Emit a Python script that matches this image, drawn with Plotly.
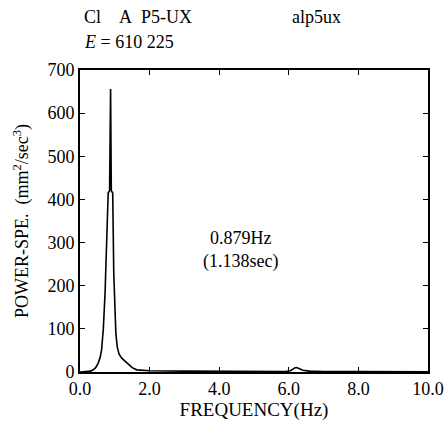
import plotly.graph_objects as go

# Data
freq = [0.0, 0.19, 0.3, 0.38, 0.45, 0.52, 0.58, 0.62, 0.67, 0.72, 0.77, 0.81, 0.85, 0.879, 0.9, 0.94, 0.97,
        1.0, 1.03, 1.07, 1.12, 1.2, 1.34, 1.5, 1.63, 2.0,
        3.0, 4.0, 5.0, 5.9, 6.05, 6.12, 6.18, 6.23, 6.3, 6.4, 6.6, 7.0, 8.0, 9.0, 10.0]
power = [0.0, 0.5, 2.0, 5.0, 10.0, 20.0, 34.0, 51.0, 100.0, 183.0, 290.0, 415.0, 420.0, 656.0, 420.0, 415.0, 230.0,
         140.0, 90.0, 58.0, 42.0, 32.0, 21.0, 10.0, 5.0, 3.0,
         2.0, 1.5, 1.0, 1.0, 3.0, 7.0, 10.0, 10.5, 8.0, 4.0, 2.0, 1.0, 1.0, 0.5, 0.5]

x_ticks = [0, 2, 4, 6, 8, 10]
x_tick_labels = ["0.0", "2.0", "4.0", "6.0", "8.0", "10.0"]
y_ticks = [0, 100, 200, 300, 400, 500, 600, 700]

FONT = "Liberation Serif"
tf = dict(family=FONT, size=18, color="black")
ttl = dict(family=FONT, size=19, color="black")

fig = go.Figure()
fig.add_trace(go.Scatter(x=freq, y=power, mode="lines",
                         line=dict(color="black", width=1.6), hoverinfo="skip"))

fig.update_layout(
    width=446, height=423,
    margin=dict(l=80, r=18, t=70, b=51),
    paper_bgcolor="white", plot_bgcolor="white",
    showlegend=False,
    font=tf,
    xaxis=dict(range=[0, 10], tickvals=x_ticks, ticktext=x_tick_labels, tickfont=tf,
               ticks="inside", ticklen=5, tickwidth=1.2, tickcolor="black",
               showline=True, linecolor="black", linewidth=1.6, mirror="ticks",
               showgrid=False, zeroline=False, automargin=False,
               title=dict(text="FREQUENCY(Hz)", font=ttl, standoff=2)),
    yaxis=dict(range=[0, 700], tickvals=y_ticks, tickfont=tf,
               ticks="inside", ticklen=5, tickwidth=1.2, tickcolor="black",
               showline=True, linecolor="black", linewidth=1.6, mirror="ticks",
               showgrid=False, zeroline=False, automargin=False,
               title=dict(text="POWER-SPE.  (mm<sup>2</sup>/sec<sup>3</sup>)", font=tf, standoff=14)),
)

fig.add_annotation(x=0.46, y=(372 - 250) / 302, xref="paper", yref="paper",
                   text="0.879Hz<br>(1.138sec)", showarrow=False,
                   font=tf, align="center")
fig.add_annotation(x=(82 - 80) / 348, y=1 + (70 - 17) / 302, xref="paper", yref="paper",
                   text="Cl&nbsp;&nbsp;&nbsp;&nbsp;A&nbsp;&nbsp;P5-UX", showarrow=False,
                   xanchor="left", yanchor="middle", font=tf)
fig.add_annotation(x=(290 - 80) / 348, y=1 + (70 - 17) / 302, xref="paper", yref="paper",
                   text="alp5ux", showarrow=False,
                   xanchor="left", yanchor="middle", font=tf)
fig.add_annotation(x=(82 - 80) / 348, y=1 + (70 - 42) / 302, xref="paper", yref="paper",
                   text="<i>E</i> = 610 225", showarrow=False,
                   xanchor="left", yanchor="middle", font=tf)

fig.write_html("out.html")
